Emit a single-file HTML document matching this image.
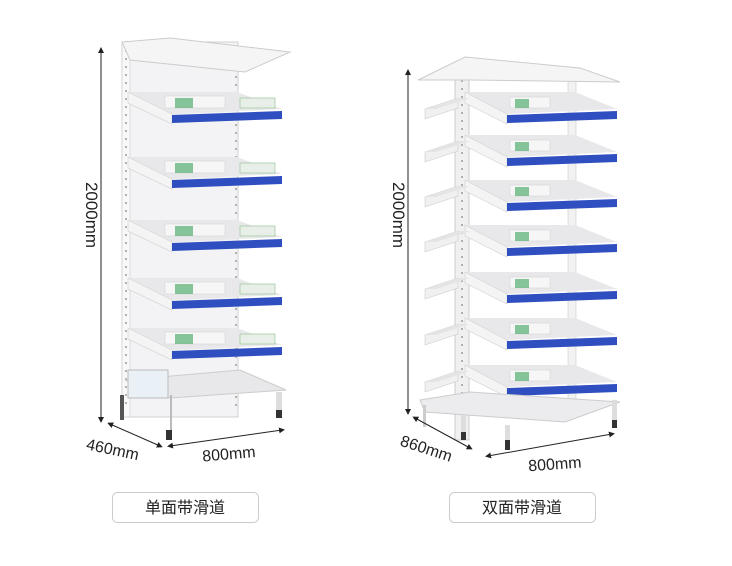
<!DOCTYPE html>
<html><head><meta charset="utf-8"><style>
html,body{margin:0;padding:0;background:#fff;}
svg{display:block}
text{font-family:"Liberation Sans","Noto Sans CJK SC",sans-serif;fill:#222}
</style></head><body>
<svg width="732" height="566" viewBox="0 0 732 566" xmlns="http://www.w3.org/2000/svg">
<defs>
<g id="sl">
  <polygon points="128,-20 237,-20 282,-3 172,2" fill="#e8e8ea"/>
  <rect x="165" y="-16" width="60" height="12" fill="#f6f6f6" stroke="#cfcfcf" stroke-width="0.5"/>
  <rect x="175" y="-14" width="18" height="10" fill="#3aa35a" opacity="0.6"/>
  <rect x="240" y="-14" width="35" height="10" fill="#e8efe8" stroke="#8bbf8b" stroke-width="0.6"/>
  <polygon points="128,-20 172,2 172,12 128,-9" fill="#f4f4f4" stroke="#cfcfcf" stroke-width="0.6"/>
  <polygon points="172,3 282,-1 282,7 172,11" fill="#2f4fc0"/>
</g>
<g id="sr">
  <polygon points="465,-20 575,-20 617,-3 507,2" fill="#e8e8ea"/>
  <rect x="510" y="-15" width="40" height="11" fill="#f6f6f6" stroke="#cfcfcf" stroke-width="0.5"/>
  <rect x="515" y="-13" width="14" height="9" fill="#3aa35a" opacity="0.6"/>
  <polygon points="465,-20 507,2 507,12 465,-9" fill="#f4f4f4" stroke="#cfcfcf" stroke-width="0.6"/>
  <polygon points="507,3 617,-1 617,7 507,11" fill="#2f4fc0"/>
  <polygon points="458,-14 425,-3 425,7 458,-4" fill="#f0f0f0" stroke="#ccc" stroke-width="0.6"/>
  <polygon points="458,-14 470,-14 436,-3 425,-3" fill="#e4e4e4"/>
</g>
<marker id="a" viewBox="0 0 10 10" refX="5" refY="5" markerWidth="6" markerHeight="6" orient="auto-start-reverse"><path d="M0,0 L10,5 L0,10z" fill="#222"/></marker>
</defs>

<rect x="122" y="42" width="116" height="375" fill="#f3f3f5" stroke="#d0d0d0"/>
<rect x="122" y="42" width="8" height="375" fill="#f8f8f8" stroke="#ccc" stroke-width="0.6"/>
<line x1="126" y1="50" x2="126" y2="410" stroke="#999" stroke-dasharray="2,6" stroke-width="1.5"/>
<line x1="236" y1="60" x2="236" y2="410" stroke="#999" stroke-dasharray="2,6" stroke-width="1.5"/>
<polygon points="122,42 170,38 290,52 245,72 130,60" fill="#f5f5f5" stroke="#ccc"/>
<use href="#sl" y="112"/>
<use href="#sl" y="177"/>
<use href="#sl" y="240"/>
<use href="#sl" y="298"/>
<use href="#sl" y="348"/>
<polygon points="125,380 240,370 286,390 170,398" fill="#e8e8ea" stroke="#ccc"/>
<rect x="128" y="370" width="40" height="28" fill="#e9f0f6" stroke="#bbb"/>
<rect x="170" y="395" width="2" height="45" fill="#bbb"/>
<rect x="120" y="395" width="4" height="25" fill="#555"/>
<rect x="166" y="430" width="6" height="10" fill="#333"/>
<rect x="276" y="392" width="6" height="22" fill="#ddd"/>
<rect x="276" y="410" width="6" height="8" fill="#333"/>

<line x1="101" y1="50" x2="101" y2="420" stroke="#222" stroke-width="1" marker-start="url(#a)" marker-end="url(#a)"/>
<text x="0" y="0" font-size="17" transform="translate(86,215) rotate(90)" text-anchor="middle">2000mm</text>
<line x1="110" y1="424" x2="160" y2="446" stroke="#222" marker-start="url(#a)" marker-end="url(#a)"/>
<text x="86" y="456" font-size="16" transform="rotate(12 118 450)">460mm</text>
<line x1="170" y1="446" x2="282" y2="430" stroke="#222" marker-start="url(#a)" marker-end="url(#a)"/>
<text x="202" y="459" font-size="16" transform="rotate(-5 232 452)">800mm</text>

<rect x="455" y="70" width="14" height="370" fill="#f0f0f1" stroke="#ccc"/>
<line x1="462" y1="80" x2="462" y2="430" stroke="#999" stroke-dasharray="2,6" stroke-width="1.5"/>
<rect x="568" y="75" width="8" height="330" fill="#f2f2f2" stroke="#ccc" stroke-width="0.6"/>
<polygon points="418,80 465,57 580,68 620,82 470,80" fill="#f5f5f5" stroke="#ccc"/>
<use href="#sr" y="112"/>
<use href="#sr" y="155"/>
<use href="#sr" y="200"/>
<use href="#sr" y="245"/>
<use href="#sr" y="292"/>
<use href="#sr" y="338"/>
<use href="#sr" y="385"/>
<polygon points="420,400 470,392 620,402 565,422 425,412" fill="#ececee" stroke="#ccc"/>
<rect x="423" y="405" width="3" height="22" fill="#ccc"/>
<rect x="461" y="415" width="5" height="25" fill="#ddd"/>
<rect x="461" y="432" width="5" height="8" fill="#333"/>
<rect x="505" y="425" width="5" height="25" fill="#ddd"/>
<rect x="505" y="440" width="5" height="10" fill="#333"/>
<rect x="612" y="400" width="5" height="25" fill="#ddd"/>
<rect x="612" y="420" width="5" height="8" fill="#333"/>

<line x1="408" y1="72" x2="408" y2="412" stroke="#222" marker-start="url(#a)" marker-end="url(#a)"/>
<text x="0" y="0" font-size="17" transform="translate(393,215) rotate(90)" text-anchor="middle">2000mm</text>
<line x1="415" y1="418" x2="470" y2="448" stroke="#222" marker-start="url(#a)" marker-end="url(#a)"/>
<text x="400" y="455" font-size="16" transform="rotate(18 430 448)">860mm</text>
<line x1="488" y1="456" x2="612" y2="434" stroke="#222" marker-start="url(#a)" marker-end="url(#a)"/>
<text x="528" y="469" font-size="16" transform="rotate(-4 560 462)">800mm</text>

<rect x="112.5" y="492.5" width="146" height="30" rx="5" fill="#fff" stroke="#ccc"/>
<text x="185" y="513" font-size="16" text-anchor="middle">单面带滑道</text>
<rect x="449.5" y="492.5" width="146" height="30" rx="5" fill="#fff" stroke="#ccc"/>
<text x="522" y="513" font-size="16" text-anchor="middle">双面带滑道</text>
</svg>
</body></html>
